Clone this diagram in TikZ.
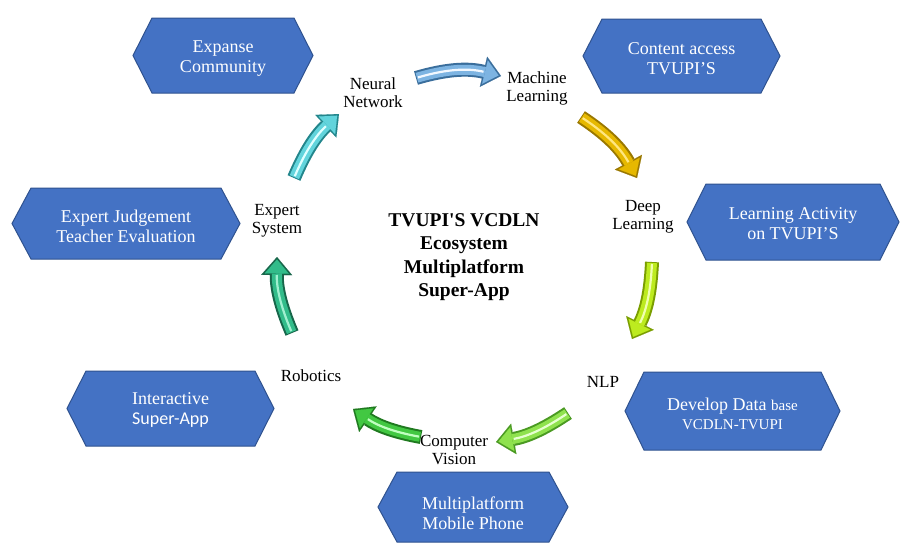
\documentclass[tikz,border=0pt]{standalone}
\usepackage{fontspec}
\setmainfont{Liberation Serif}
\newfontfamily\carl{Carlito}
\usetikzlibrary{arrows.meta}
\definecolor{hexblue}{HTML}{4472C4}
\definecolor{hexedge}{HTML}{2F528F}
\tikzset{
  hexfill/.style={fill=hexblue, draw=hexedge, line width=1pt, line join=miter},
  hextext/.style={text=white, align=center, inner sep=0pt, font=\fontsize{18}{20}\selectfont},
  lbl/.style={text=black, align=center, inner sep=0pt, font=\fontsize{17}{18}\selectfont},
  ttl/.style={text=black, align=center, inner sep=0pt, font=\bfseries\fontsize{19.5}{23.5}\selectfont}
}
% name, cx, cy, w, h, text y, text
\newcommand{\hexnode}[7]{%
  \path[hexfill] ({#2-#4/2},#3) -- ({#2-#4/2+19},{#3-#5/2}) -- ({#2+#4/2-19},{#3-#5/2})
     -- ({#2+#4/2},#3) -- ({#2+#4/2-19},{#3+#5/2}) -- ({#2-#4/2+19},{#3+#5/2}) -- cycle;
  \node[hextext] (#1) at (#2,#6) {#7};
}
% start, end, bend, dark, main, light
\newcommand{\bigarrow}[6]{%
  \draw[line width=14pt, draw=#4, -{Triangle[width=31pt,length=18pt,line width=0.1pt,fill=#4]}] (#1) to[bend left=#3] (#2);
  \draw[line width=10pt, draw=#5, shorten >=2.5pt, shorten <=1pt, -{Triangle[width=24pt,length=14pt,line width=0.1pt,fill=#5]}] (#1) to[bend left=#3] (#2);
  \draw[line width=2.2pt, draw=#6, shorten >=18pt, shorten <=2pt] (#1) to[bend left=#3] (#2);
}
\definecolor{bD}{HTML}{3A6E9C}\definecolor{bM}{HTML}{7DB4E2}\definecolor{bL}{HTML}{F2F8FF}
\definecolor{gD}{HTML}{9A7800}\definecolor{gM}{HTML}{E6B800}\definecolor{gL}{HTML}{FFE680}
\definecolor{yD}{HTML}{7A9E00}\definecolor{yM}{HTML}{BDEB1F}\definecolor{yL}{HTML}{F0FFB0}
\definecolor{lD}{HTML}{4A9A22}\definecolor{lM}{HTML}{8FE24E}\definecolor{lL}{HTML}{E6FFD0}
\definecolor{nD}{HTML}{1F7A1F}\definecolor{nM}{HTML}{42C842}\definecolor{nL}{HTML}{C0FFC0}
\definecolor{tD}{HTML}{17664A}\definecolor{tM}{HTML}{32BC8A}\definecolor{tL}{HTML}{A0F0D0}
\definecolor{cD}{HTML}{23868C}\definecolor{cM}{HTML}{62D4DC}\definecolor{cL}{HTML}{E0FFFF}
\begin{document}
\begin{tikzpicture}[x=1pt,y=-1pt]
\useasboundingbox (0,0) rectangle (901,542);
\fill[white] (0,0) rectangle (901,542);

% hexagons
\hexnode{h1}{223}{55.5}{180}{75}{59}{Expanse\\Community}
\hexnode{h2}{681.5}{56}{197}{74}{59}{Content access\\TVUPI'S}
\hexnode{h3}{126}{223.5}{228}{71}{226}{Expert Judgement\\Teacher Evaluation}
\hexnode{h4}{793}{222}{212}{76}{224}{Learning Activity\\on TVUPI'S}
\hexnode{h5}{170.5}{408.5}{207}{75}{410}{Interactive\\{\carl Super-App}}
\hexnode{h6}{732.5}{411}{215}{78}{414}{Develop Data {\fontsize{15}{16}\selectfont base}\\[-1pt]{\fontsize{15}{16}\selectfont VCDLN-TVUPI}}
\hexnode{h7}{473}{507}{190}{70}{513}{Multiplatform\\Mobile Phone}

% labels
\node[lbl] (nn) at (373,93) {Neural\\Network};
\node[lbl] (ml) at (537,88) {Machine\\Learning};
\node[lbl] (dl) at (643,217) {Deep\\Learning};
\node[lbl] (nlp) at (603,382) {NLP};
\node[lbl] (cv) at (454,450) {Computer\\Vision};
\node[lbl] (rob) at (311,376) {Robotics};
\node[lbl] (es) at (277,221) {Expert\\System};
\node[ttl] (title) at (464,257) {TVUPI\textquotesingle S VCDLN\\Ecosystem\\Multiplatform\\Super-App};

% arrow end points
\coordinate (a1s) at (416,78);  \coordinate (a1e) at (501,76);
\coordinate (a2s) at (581,117); \coordinate (a2e) at (637,178);
\coordinate (a3s) at (652,262); \coordinate (a3e) at (632,339);
\coordinate (a4s) at (568,413); \coordinate (a4e) at (496,442);
\coordinate (a5s) at (421,437); \coordinate (a5e) at (353,409);
\coordinate (a6s) at (292,333); \coordinate (a6e) at (277,257);
\coordinate (a7s) at (294,178); \coordinate (a7e) at (339,114);

\bigarrow{a1s}{a1e}{15}{bD}{bM}{bL}
\bigarrow{a2s}{a2e}{14}{gD}{gM}{gL}
\bigarrow{a3s}{a3e}{12}{yD}{yM}{yL}
\bigarrow{a4s}{a4e}{12}{lD}{lM}{lL}
\bigarrow{a5s}{a5e}{12}{nD}{nM}{nL}
\bigarrow{a6s}{a6e}{12}{tD}{tM}{tL}
\bigarrow{a7s}{a7e}{12}{cD}{cM}{cL}
\end{tikzpicture}
\end{document}
